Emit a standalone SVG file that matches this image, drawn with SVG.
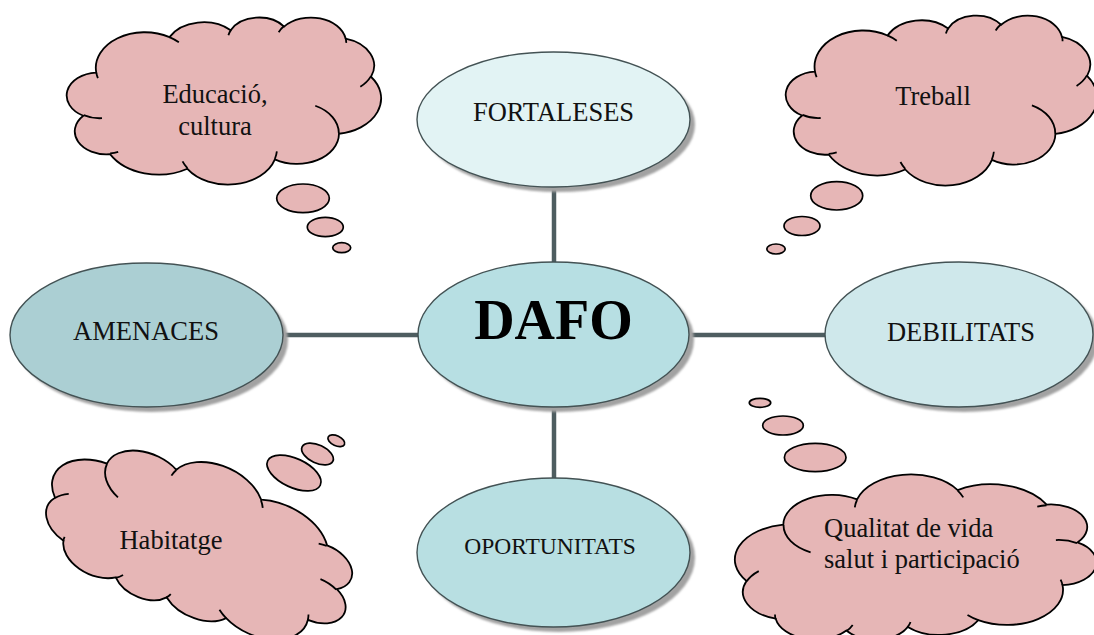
<svg xmlns="http://www.w3.org/2000/svg" xmlns:xlink="http://www.w3.org/1999/xlink" width="1094" height="635" viewBox="0 0 1094 635">
  <defs>
    <filter id="soft" x="-10%" y="-10%" width="120%" height="120%">
      <feGaussianBlur stdDeviation="0.8"/>
    </filter>
    <path id="cloudShape" class="cloud" d="M39,143.7 A67.53,91.9 0 0 1 140.05,52.01 A53.33,72.67 0 0 1 224.56,34.32 A43.65,59.45 0 0 1 298.33,24.81 A48.57,65.95 0 0 1 383.18,55.75 A53.33,72.73 0 0 1 418.19,154.59 A67.75,92.2 0 0 1 374.04,302.01 A57.85,78.67 0 0 1 285.55,368.11 A67.52,92.15 0 0 1 164.8,392.62 A77.2,105.43 0 0 1 58.02,354.67 A43.6,59.18 0 0 1 21.11,255.45 A43.45,59.45 0 0 1 39,143.7 Z"/>
    <path id="cloudInner" class="cloudIn" d="M46.93,261.77 A43.45,59.45 0 0 1 21.6,253.8 M69.28,348.99 A43.6,59.18 0 0 1 58.19,352.81 M164.78,390.9 A67.52,92.15 0 0 1 158.1,373.5 M288.27,347.51 A67.52,92.15 0 0 1 285.6,366.6 M341.29,229.54 A57.85,78.67 0 0 1 373.8,300.89 M417.98,153.54 A53.33,72.73 0 0 1 403.5,180.3 M383.24,54.26 A48.57,65.95 0 0 1 384,66.9 M290.78,39.52 A48.57,65.95 0 0 1 298.2,23.4 M221.41,47.2 A43.65,59.45 0 0 1 225,33.31 M140,51.92 A67.53,91.9 0 0 1 153,65.4 M41.27,157.89 A67.53,91.9 0 0 1 39,143.7"/>
  </defs>
  <style>
    .cloud { fill:#e6b6b6; stroke:#000; stroke-width:1.8; vector-effect:non-scaling-stroke; }
    .cloudIn { fill:none; stroke:#000; stroke-width:1.8; vector-effect:non-scaling-stroke; }
    .bubble { fill:#e6b6b6; stroke:#000; stroke-width:1.7; }
    .shadow { fill:#a2a2a2; filter:url(#soft); }
    .oval { stroke:#435254; stroke-width:1.4; }
    .lbl { font-family:"Liberation Serif","Times New Roman",serif; fill:#111; text-anchor:middle; font-size:26.5px; }
    .conn line { stroke:#4e5d60; stroke-width:4.5; }
  </style>

  <g id="connectors" class="conn">
    <line x1="554" y1="185" x2="554" y2="264"/>
    <line x1="554" y1="405" x2="554" y2="480"/>
    <line x1="281" y1="335" x2="420" y2="335"/>
    <line x1="687" y1="335" x2="827" y2="335"/>
  </g>

  <g id="fortaleses">
    <ellipse class="shadow" cx="558.5" cy="124.5" rx="136.5" ry="67.5"/>
    <ellipse class="oval" cx="553.5" cy="119.5" rx="136.5" ry="67.5" fill="#e2f3f4"/>
    <text class="lbl" x="553.5" y="121">FORTALESES</text>
  </g>

  <g id="dafo">
    <ellipse class="shadow" cx="558.5" cy="339.5" rx="135.5" ry="72.5"/>
    <ellipse class="oval" cx="553.5" cy="334.5" rx="135.5" ry="72.5" fill="#b7dfe3"/>
    <text class="lbl" x="553.5" y="339" style="font-size:56px;font-weight:bold;fill:#000">DAFO</text>
  </g>

  <g id="amenaces">
    <ellipse class="shadow" cx="151.5" cy="340" rx="136.5" ry="72"/>
    <ellipse class="oval" cx="146.5" cy="335" rx="136.5" ry="72" fill="#abcfd3"/>
    <text class="lbl" x="146" y="340">AMENACES</text>
  </g>

  <g id="debilitats">
    <ellipse class="shadow" cx="964" cy="339.5" rx="134" ry="72.5"/>
    <ellipse class="oval" cx="959" cy="334.5" rx="134" ry="72.5" fill="#cfe8eb"/>
    <text class="lbl" x="961" y="341">DEBILITATS</text>
  </g>

  <g id="oportunitats">
    <ellipse class="shadow" cx="558.5" cy="557.5" rx="136.5" ry="74.5"/>
    <ellipse class="oval" cx="553.5" cy="552.5" rx="136.5" ry="74.5" fill="#b8dfe2"/>
    <text class="lbl" x="550" y="554" style="font-size:23.5px">OPORTUNITATS</text>
  </g>

  <g id="cloud-educacio">
    <g transform="translate(68,17) scale(0.7245,0.3866)">
      <use xlink:href="#cloudShape" href="#cloudShape"/>
      <use xlink:href="#cloudInner" href="#cloudInner"/>
    </g>
    <ellipse class="bubble" cx="303" cy="198.3" rx="26.3" ry="14.3"/>
    <ellipse class="bubble" cx="325.3" cy="227" rx="18" ry="9.7"/>
    <ellipse class="bubble" cx="341.7" cy="247.7" rx="9" ry="5"/>
    <text class="lbl" x="215" y="103">Educació,</text>
    <text class="lbl" x="215" y="135">cultura</text>
  </g>

  <g id="cloud-treball">
    <g transform="translate(787,15) scale(0.7176,0.3935)">
      <use xlink:href="#cloudShape" href="#cloudShape"/>
      <use xlink:href="#cloudInner" href="#cloudInner"/>
    </g>
    <ellipse class="bubble" cx="836.7" cy="195.8" rx="26" ry="14.2"/>
    <ellipse class="bubble" cx="802" cy="226" rx="18" ry="9.5"/>
    <ellipse class="bubble" cx="776" cy="249" rx="9.2" ry="5"/>
    <text class="lbl" x="933" y="105">Treball</text>
  </g>

  <g id="cloud-habitatge">
    <g transform="translate(200,541) rotate(205) translate(-160,-77.5) scale(0.7407,0.3588)">
      <use xlink:href="#cloudShape" href="#cloudShape"/>
      <use xlink:href="#cloudInner" href="#cloudInner"/>
    </g>
    <ellipse class="bubble" cx="294" cy="473" rx="29" ry="14.5" transform="rotate(25 294 473)"/>
    <ellipse class="bubble" cx="317.5" cy="454" rx="17" ry="9" transform="rotate(25 317.5 454)"/>
    <ellipse class="bubble" cx="336.3" cy="440.8" rx="9" ry="5" transform="rotate(25 336.3 440.8)"/>
    <text class="lbl" x="171" y="549">Habitatge</text>
  </g>

  <g id="cloud-qualitat">
    <g transform="translate(1095,640) scale(-0.8333,-0.3819)">
      <use xlink:href="#cloudShape" href="#cloudShape"/>
      <use xlink:href="#cloudInner" href="#cloudInner"/>
    </g>
    <ellipse class="bubble" cx="815.2" cy="457.5" rx="30.8" ry="14.2"/>
    <ellipse class="bubble" cx="783" cy="425.5" rx="20.3" ry="9.5"/>
    <ellipse class="bubble" cx="760" cy="402.8" rx="10.7" ry="4.5"/>
    <text class="lbl" x="824" y="537" style="text-anchor:start">Qualitat de vida</text>
    <text class="lbl" x="824" y="568" style="text-anchor:start">salut i participació</text>
  </g>
</svg>
